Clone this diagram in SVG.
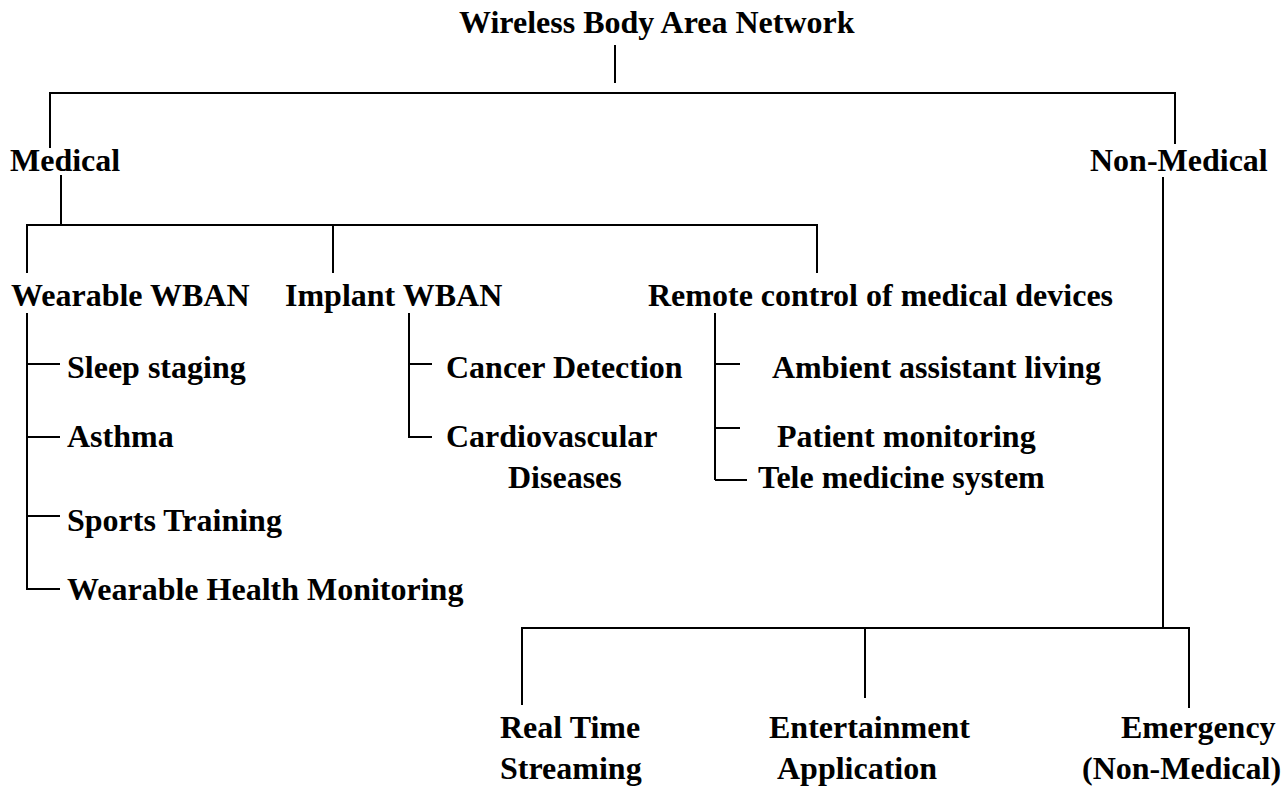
<svg xmlns="http://www.w3.org/2000/svg" width="1287" height="790" viewBox="0 0 1287 790">
<style>
text{font-family:"Liberation Serif","Times New Roman",serif;font-weight:bold;font-size:32px;fill:#000}
.c line{stroke:#000;stroke-width:2;fill:none}
</style>
<rect width="1287" height="790" fill="#fff"/>
<g class="c" id="connectors">
<line x1="615" y1="45" x2="615" y2="83"/>
<line x1="50" y1="93" x2="1175" y2="93"/>
<line x1="50" y1="92" x2="50" y2="148"/>
<line x1="1175" y1="92" x2="1175" y2="144"/>
<line x1="61" y1="175" x2="61" y2="225"/>
<line x1="27" y1="225" x2="817" y2="225"/>
<line x1="27" y1="224" x2="27" y2="273"/>
<line x1="333" y1="225" x2="333" y2="273"/>
<line x1="817" y1="224" x2="817" y2="273"/>
<line x1="27" y1="313" x2="27" y2="590"/>
<line x1="27" y1="364" x2="60" y2="364"/>
<line x1="27" y1="437" x2="60" y2="437"/>
<line x1="27" y1="516" x2="60" y2="516"/>
<line x1="27" y1="589" x2="60" y2="589"/>
<line x1="409" y1="313" x2="409" y2="438"/>
<line x1="409" y1="364" x2="432" y2="364"/>
<line x1="409" y1="437" x2="432" y2="437"/>
<line x1="715" y1="313" x2="715" y2="480"/>
<line x1="715" y1="364" x2="740" y2="364"/>
<line x1="715" y1="428" x2="740" y2="428"/>
<line x1="715" y1="480" x2="747" y2="480"/>
<line x1="1163" y1="177" x2="1163" y2="628"/>
<line x1="522" y1="628" x2="1189" y2="628"/>
<line x1="522" y1="627" x2="522" y2="705"/>
<line x1="865" y1="628" x2="865" y2="698"/>
<line x1="1189" y1="627" x2="1189" y2="708"/>
</g>
<g id="root"><text x="459" y="33">Wireless Body Area Network</text></g>
<g id="medical"><text x="10" y="171">Medical</text></g>
<g id="nonmedical"><text x="1090" y="171">Non-Medical</text></g>
<g id="wearable"><text x="11" y="306">Wearable WBAN</text></g>
<g id="implant"><text x="285" y="306">Implant WBAN</text></g>
<g id="remote"><text x="648" y="306">Remote control of medical devices</text></g>
<g id="sleep"><text x="67" y="378">Sleep staging</text></g>
<g id="asthma"><text x="67" y="447">Asthma</text></g>
<g id="sports"><text x="67" y="531">Sports Training</text></g>
<g id="whm"><text x="67" y="600">Wearable Health Monitoring</text></g>
<g id="cancer"><text x="446" y="378">Cancer Detection</text></g>
<g id="cardio"><text x="446" y="447">Cardiovascular</text><text x="508" y="488">Diseases</text></g>
<g id="ambient"><text x="772" y="378">Ambient assistant living</text></g>
<g id="patient"><text x="777" y="447">Patient monitoring</text></g>
<g id="tele"><text x="758" y="488">Tele medicine system</text></g>
<g id="realtime"><text x="500" y="738">Real Time</text><text x="500" y="779">Streaming</text></g>
<g id="entertainment"><text x="769" y="738">Entertainment</text><text x="777" y="779">Application</text></g>
<g id="emergency"><text x="1121" y="738">Emergency</text><text x="1082" y="779">(Non-Medical)</text></g>
</svg>
